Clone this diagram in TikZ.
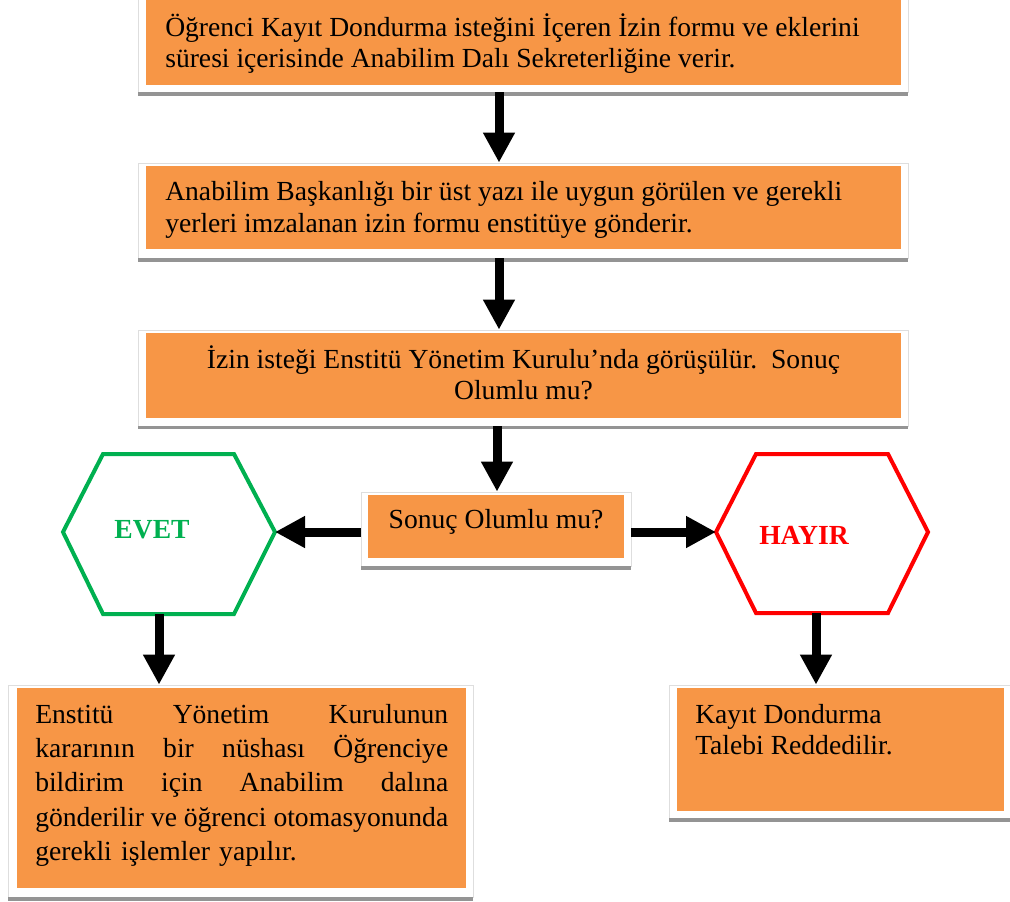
\documentclass[tikz,border=0pt]{standalone}
\usepackage{fontspec}
\setmainfont{Liberation Serif}
\usetikzlibrary{arrows.meta,fit}
\definecolor{boxorange}{HTML}{F79646}
\definecolor{yesgreen}{HTML}{00B050}
\definecolor{nored}{HTML}{FF0000}
% stretchable inter-word space for the justified lines
\newcommand\jsp{\hskip 0.2em plus 1fill\relax}
\tikzset{
  frame/.style={draw=black!13, line width=0.6pt, fill=white, inner sep=0pt},
  shadowbar/.style={fill=black!42},
  obox/.style={fill=boxorange, draw=none, inner sep=0pt},
  txt/.style={inner sep=0pt, anchor=north west, align=left,
    font=\fontsize{20.7pt}{23.25pt}\selectfont},
  flow/.style={line width=6.75pt, -{Triangle[width=22.5pt,length=22.5pt]}},
  hexline/.style={line width=3pt, line join=miter},
  hexlabel/.style={inner sep=0pt, font=\fontsize{20.7pt}{23pt}\selectfont\bfseries}
}
\begin{document}
\begin{tikzpicture}[x=0.75pt,y=-0.75pt]
\useasboundingbox (0,0) rectangle (1010,901);

% step 1
\node[frame, fit={(138,-8) (908,92)}] (f1) {};
\fill[shadowbar] (138,92) rectangle (908,96);
\node[obox, fit={(146,-2) (901,85)}] (b1) {};
\node[txt] (t1) at (165,13.3) {\strut Öğrenci Kayıt Dondurma isteğini İçeren İzin formu ve eklerini\\
süresi içerisinde Anabilim Dalı Sekreterliğine verir.};

% step 2
\node[frame, fit={(138,163) (908,258)}] (f2) {};
\fill[shadowbar] (138,258) rectangle (908,262);
\node[obox, fit={(146,166) (901,249)}] (b2) {};
\node[txt, font=\fontsize{20.7pt}{24pt}\selectfont] (t2) at (165,177.6) {\strut Anabilim Başkanlığı bir üst yazı ile uygun görülen ve gerekli\\
yerleri imzalanan izin formu enstitüye gönderir.};

% step 3
\node[frame, fit={(138,330) (908,426)}] (f3) {};
\fill[shadowbar] (138,426) rectangle (908,429);
\node[obox, fit={(146,333) (901,418)}] (b3) {};
\node[txt, anchor=north, align=center] (t3) at (523.5,345.3) {\strut İzin isteği Enstitü Yönetim Kurulu’nda görüşülür.\ \ Sonuç\\
Olumlu mu?};

% decision
\node[frame, fit={(361,492) (631,566)}] (fs) {};
\fill[shadowbar] (361,566) rectangle (631,570);
\node[obox, fit={(368,495) (624,558)}] (bs) {};
\node[txt, anchor=base] (ts) at (496,528) {Sonuç Olumlu mu?};

% yes / no hexagons
\coordinate (evR) at (275,532);
\coordinate (evB) at (159,614);
\draw[hexline, draw=yesgreen] (103,454) -- (234,454) -- (evR) -- (234,614) -- (103,614) -- (63,532) -- cycle;
\node[hexlabel, text=yesgreen] (ev) at (152,530) {EVET};

\coordinate (hyL) at (716,532);
\coordinate (hyB) at (816,613);
\draw[hexline, draw=nored] (756,454) -- (888,454) -- (928,532) -- (888,613) -- (756,613) -- (hyL) -- cycle;
\node[hexlabel, text=nored] (hy) at (804,535) {HAYIR};

% outcome boxes
\node[frame, fit={(8,685) (473,897)}] (fL) {};
\fill[shadowbar] (8,897) rectangle (473,901);
\node[obox, fit={(17,688) (466,888)}] (bL) {};
\node[txt, text width=309.75pt, font=\fontsize{20.7pt}{25.7pt}\selectfont] (tL) at (35,699) {%
\makebox[309.75pt]{\strut Enstitü\jsp Yönetim\jsp Kurulunun}\\
\makebox[309.75pt]{kararının\jsp bir\jsp nüshası\jsp Öğrenciye}\\
\makebox[309.75pt]{bildirim\jsp için\jsp Anabilim\jsp dalına}\\
\makebox[309.75pt]{gönderilir\jsp ve\jsp öğrenci\jsp otomasyonunda}\\
gerekli işlemler yapılır.};

\node[frame, fit={(669,685) (1013,818)}] (fR) {};
\fill[shadowbar] (669,818) rectangle (1013,822);
\node[obox, fit={(677,688) (1004,811)}] (bR) {};
\node[txt] (tR) at (695,701.3) {\strut Kayıt Dondurma\\
Talebi Reddedilir.};

% connectors
\coordinate (colA) at (499,0);
\coordinate (colB) at (497,0);
\draw[flow] (colA |- f1.south) -- (colA |- f2.north);
\draw[flow] (colA |- f2.south) -- (colA |- f3.north);
\draw[flow] (colB |- f3.south) -- (colB |- fs.north);
\draw[flow] (evR -| fs.west) -- (evR);
\draw[flow] (hyL -| fs.east) -- (hyL);
\draw[flow] (evB) -- (evB |- fL.north);
\draw[flow] (hyB) -- (hyB |- fR.north);
\end{tikzpicture}
\end{document}
